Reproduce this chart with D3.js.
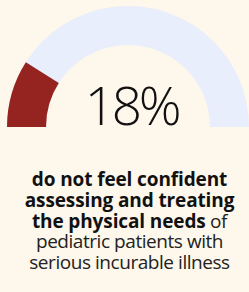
<!DOCTYPE html>
<html>
<head>
<meta charset="utf-8">
<script src="https://cdn.jsdelivr.net/npm/d3@7"></script>
<style>
  html, body { margin: 0; padding: 0; background: #fdf7ec; }
  svg { display: block; }
</style>
</head>
<body>
<div id="chart"></div>
<script>
// gauge value and caption
const percent = [18];
const total = [100];
const captionLines = [
  [{ t: "do not feel confident", b: true }],
  [{ t: "assessing and treating", b: true }],
  [{ t: "the physical needs", b: true }, { t: " of", b: false }],
  [{ t: "pediatric patients with", b: false }],
  [{ t: "serious incurable illness", b: false }]
];

const width = 249, height = 292;
const cx = 128, cy = 127;
const outerR = 121, innerR = 82;

const svg = d3.select("#chart")
  .append("svg")
  .attr("width", width)
  .attr("height", height);

svg.append("rect")
  .attr("width", width)
  .attr("height", height)
  .style("fill", "#fdf7ec");

// angle scale: 0 -> left end, 100 -> right end
const angle = d3.scaleLinear()
  .domain([0, total[0]])
  .range([-Math.PI / 2, Math.PI / 2]);

const arc = d3.arc()
  .innerRadius(innerR)
  .outerRadius(outerR);

const g = svg.append("g")
  .attr("transform", `translate(${cx}, ${cy})`);

// background track
g.append("path")
  .attr("d", arc({ startAngle: angle(0), endAngle: angle(total[0]) }))
  .style("fill", "#e8eefb");

// value
g.append("path")
  .attr("d", arc({ startAngle: angle(0), endAngle: angle(percent[0]) }))
  .style("fill", "#952320");

svg.append("text")
  .attr("x", 131.5)
  .attr("y", 125)
  .attr("text-anchor", "middle")
  .style("font-family", "'Open Sans', sans-serif")
  .style("font-size", "53px")
  .style("font-weight", 350)
  .style("letter-spacing", "-3.2px")
  .style("fill", "#111")
  .text(percent[0] + "%");

// caption, one text per line, bold runs as tspans
captionLines.forEach((line, i) => {
  const t = svg.append("text")
    .attr("x", 129.5)
    .attr("y", 186 + i * 20.8)
    .attr("text-anchor", "middle")
    .style("font-family", "'Open Sans', sans-serif")
    .style("font-size", "19px")
    .style("fill", "#1a1a1a");
  line.forEach(part => {
    t.append("tspan")
      .style("font-weight", part.b ? 700 : 400)
      .style("letter-spacing", part.b ? "-0.12px" : "-0.45px")
      .style("fill", part.b ? "#111" : "#222")
      .text(part.t);
  });
});
</script>
</body>
</html>
